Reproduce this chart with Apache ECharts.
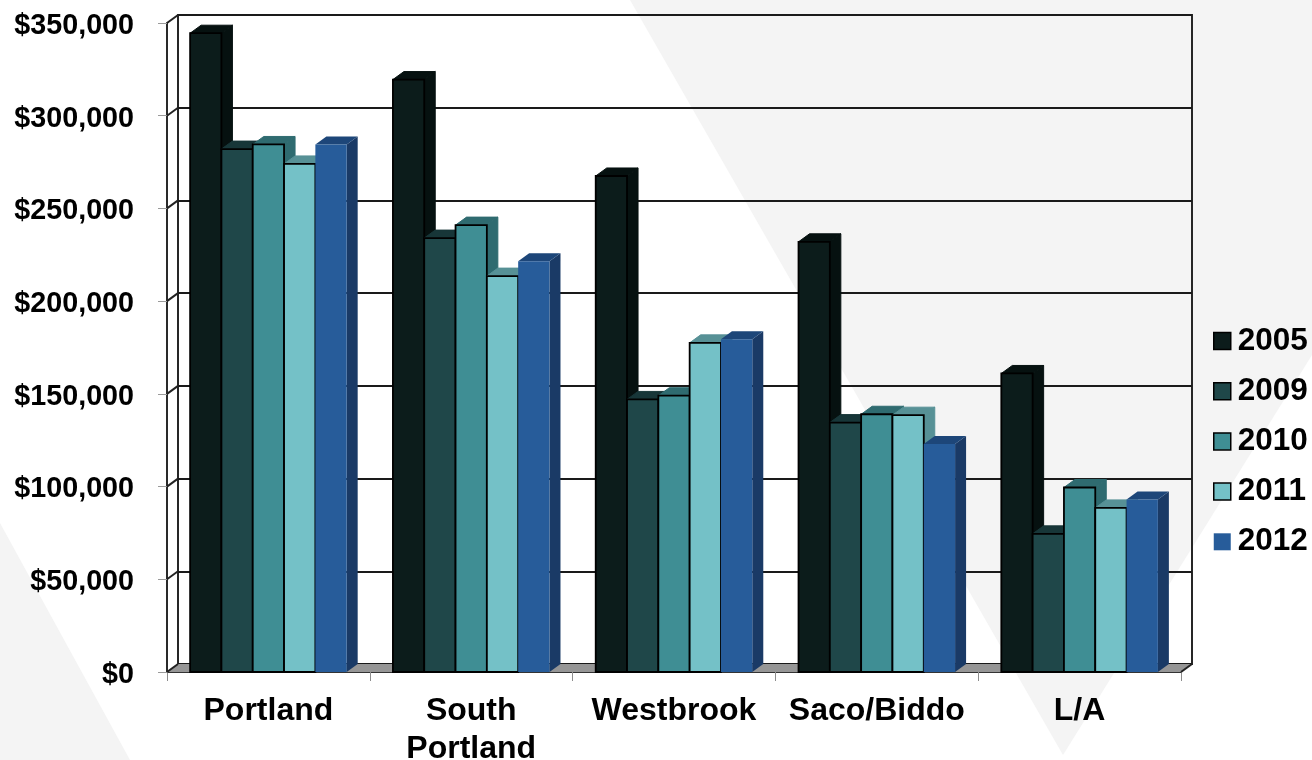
<!DOCTYPE html>
<html>
<head>
<meta charset="utf-8">
<style>html,body{margin:0;padding:0;background:#fff}#chart{width:1312px;height:760px}</style>
<script src="https://cdn.jsdelivr.net/npm/echarts@6/dist/echarts.min.js"></script>
</head>
<body>
<div id="chart"></div>
<script>
// Median price by market, one 3D-look bar per year in each city group.
const cities = ['Portland', 'South\nPortland', 'Westbrook', 'Saco/Biddo', 'L/A'];
const years = ['2005', '2009', '2010', '2011', '2012'];
const values2005 = [344500, 319500, 267500, 232000, 161000];
const values2009 = [282000, 234000, 147000, 134500, 74500];
const values2010 = [284500, 241000, 149000, 139000, 99500];
const values2011 = [274000, 213500, 177500, 138500, 88500];
const values2012 = [284500, 221500, 179500, 123000, 93000];
const yearValues = [values2005, values2009, values2010, values2011, values2012];
const frontColors = ['#0c1c1b', '#1f4749', '#3f8e94', '#74c1c7', '#275c9a'];
const topColors = ['#061110', '#173638', '#2f6b70', '#579196', '#1d4679'];
const sideColors = ['#061110', '#173638', '#2f6b70', '#579196', '#1a3a66'];
const edgeColors = ['#000', '#000', '#000', '#000', null];
const yTicks = [0, 50000, 100000, 150000, 200000, 250000, 300000, 350000];

// Depth of the extruded look, in pixels.
const DX = 11, DY = -8;
const GROUP_RATIO = 0.772;
const FONT = '"Liberation Sans", Arial, sans-serif';

function money(v) {
  return '$' + String(v).replace(/\B(?=(\d{3})+$)/g, ',');
}

function barRenderer(seriesIdx) {
  return function (params, api) {
    const base = api.coord([api.value(0), 0]);
    const top = api.coord([api.value(0), api.value(1)]);
    const w = api.size([1, 0])[0] * GROUP_RATIO / years.length;
    const x0 = base[0] - w * years.length / 2 + w * seriesIdx;
    const x1 = x0 + w;
    const yT = top[1], yB = base[1];
    const edge = edgeColors[seriesIdx];
    const side = sideColors[seriesIdx];
    const outline = { stroke: edge ? side : null, lineWidth: edge ? 1 : 0 };
    return {
      type: 'group',
      children: [
        { type: 'polygon',
          shape: { points: [[x1, yT], [x1 + DX, yT + DY], [x1 + DX, yB + DY], [x1, yB]] },
          style: Object.assign({ fill: side }, outline) },
        { type: 'polygon',
          shape: { points: [[x0, yT], [x0 + DX, yT + DY], [x1 + DX, yT + DY], [x1, yT]] },
          style: Object.assign({ fill: topColors[seriesIdx] }, outline) },
        { type: 'rect',
          shape: { x: x0, y: yT, width: w, height: yB - yT },
          style: { fill: frontColors[seriesIdx], stroke: edge, lineWidth: edge ? 1.8 : 0 } }
      ]
    };
  };
}

// Floor of the box and the left wall's connectors at each tick.
function frameRenderer(params, api) {
  const cs = params.coordSys;
  const v = api.value(0);
  const p = api.coord([0, v]);
  const left = cs.x;
  const children = [{
    type: 'line',
    shape: { x1: left, y1: p[1], x2: left + DX, y2: p[1] + DY },
    style: { stroke: '#222', lineWidth: 2 }
  }];
  if (v === 0) {
    children.unshift({
      type: 'polygon',
      shape: { points: [[left, p[1]], [left + DX, p[1] + DY],
        [left + cs.width + DX, p[1] + DY], [left + cs.width, p[1]]] },
      style: { fill: '#969696' }
    });
    children.push({
      type: 'line',
      shape: { x1: left + cs.width, y1: p[1], x2: left + cs.width + DX, y2: p[1] + DY },
      style: { stroke: '#222', lineWidth: 2 }
    });
  }
  return { type: 'group', children: children };
}

const barSeries = years.map(function (year, i) {
  return {
    name: year,
    type: 'custom',
    xAxisIndex: 0,
    yAxisIndex: 0,
    z: 3,
    silent: true,
    itemStyle: { color: frontColors[i] },
    encode: { x: 0, y: 1 },
    renderItem: barRenderer(i),
    data: cities.map(function (c, k) { return [k, yearValues[i][k]]; })
  };
});

const chart = echarts.init(document.getElementById('chart'), null, { renderer: 'canvas' });
chart.setOption({
  animation: false,
  backgroundColor: '#ffffff',
  graphic: [
    { type: 'polygon', z: -10, silent: true,
      shape: { points: [[630, 0], [1063, 755], [1312, 355], [1312, 0]] },
      style: { fill: '#f4f4f4' } },
    { type: 'polygon', z: -10, silent: true,
      shape: { points: [[0, 523], [130, 760], [0, 760]] },
      style: { fill: '#f4f4f4' } }
  ],
  grid: [
    { left: 167, top: 23, width: 1014, height: 649, outerBoundsMode: 'none' },
    { left: 178, top: 15, width: 1014, height: 649, outerBoundsMode: 'none', show: true,
      backgroundColor: 'transparent', borderColor: '#262626', borderWidth: 2 }
  ],
  legend: {
    orient: 'vertical',
    left: 1208,
    top: 320,
    itemWidth: 17,
    itemHeight: 17,
    itemGap: 18.2,
    icon: 'rect',
    selectedMode: false,
    textStyle: { fontFamily: FONT, fontWeight: 'bold', fontSize: 31.5, color: '#000', lineHeight: 31, padding: [0, 0, 0, 2] },
    data: years.map(function (y, i) {
      return {
        name: y,
        itemStyle: { color: frontColors[i], borderColor: edgeColors[i] || frontColors[i], borderWidth: edgeColors[i] ? 1.5 : 0 }
      };
    })
  },
  xAxis: [
    { type: 'category', gridIndex: 0, data: cities,
      axisLine: { onZero: false, lineStyle: { color: '#333', width: 2 } },
      axisTick: { show: true, length: 9, alignWithLabel: false, lineStyle: { color: '#8c8c8c', width: 1 } },
      axisLabel: { interval: 0, margin: 20, fontFamily: FONT, fontWeight: 'bold', fontSize: 32, color: '#000', lineHeight: 38 },
      splitLine: { show: false } },
    { type: 'category', gridIndex: 1, data: cities,
      axisLine: { show: false }, axisTick: { show: false }, axisLabel: { show: false }, splitLine: { show: false } }
  ],
  yAxis: [
    { type: 'value', gridIndex: 0, min: 0, max: 350000, interval: 50000,
      axisLine: { show: true, lineStyle: { color: '#2a2a2a', width: 2 } },
      axisTick: { show: true, length: 9, lineStyle: { color: '#9a9a9a', width: 1 } },
      axisLabel: { margin: 33, verticalAlign: 'top', lineHeight: 6, fontFamily: FONT, fontWeight: 'bold', fontSize: 28.7, color: '#000', formatter: money },
      splitLine: { show: false } },
    { type: 'value', gridIndex: 1, min: 0, max: 350000, interval: 50000,
      axisLine: { show: false }, axisTick: { show: false }, axisLabel: { show: false },
      splitLine: { show: true, lineStyle: { color: '#1a1a1a', width: 2 } } }
  ],
  series: [{
    name: 'frame',
    type: 'custom',
    xAxisIndex: 0,
    yAxisIndex: 0,
    z: 1,
    silent: true,
    renderItem: frameRenderer,
    encode: { y: 0 },
    data: yTicks.map(function (t) { return [t]; })
  }].concat(barSeries)
});
</script>
</body>
</html>
